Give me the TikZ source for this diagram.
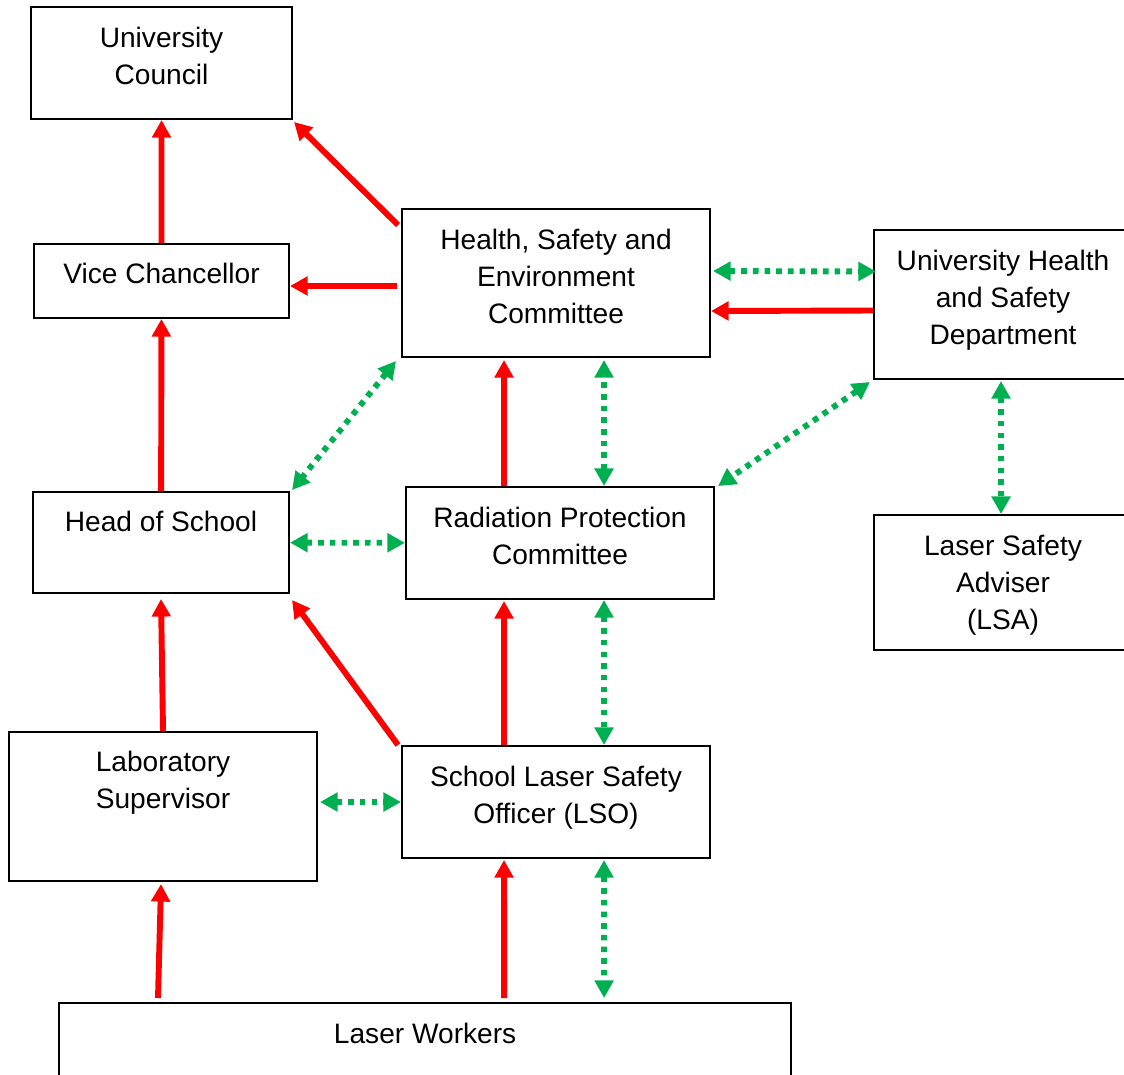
\documentclass[tikz,border=0pt]{standalone}
\usepackage{fontspec}
\setmainfont{Liberation Sans}
\usepackage{xcolor}
\definecolor{g}{RGB}{0,176,80}
\usepackage{tikz}
\usetikzlibrary{arrows.meta, positioning, calc}

\begin{document}
\begin{tikzpicture}[x=0.025cm, y=-0.025cm,
    box/.style={draw, line width=1.4pt, inner sep=0pt, anchor=north west},
    boxtext/.style={align=center, inner sep=0pt, font=\fontsize{20}{26.2}\selectfont},
    redarrow/.style={red, line width=4.2pt, -{Triangle[length=12.5pt, width=13pt]}},
    greenarrow/.style={g, line width=4.2pt, dash pattern=on 4pt off 4.3pt,
        {Triangle[length=12.5pt, width=13pt]}-{Triangle[length=12.5pt, width=13pt]}}]
    % Page and clipping
    \useasboundingbox (0,0) rectangle (1124,1074);
    \clip (0,0) rectangle (1124,1074);

    % Left column
    \node[box, minimum width=6.525cm, minimum height=2.8cm] (uc) at (30,6) {};
    \node[box, minimum width=6.375cm, minimum height=1.85cm] (vc) at (33,243) {};
    \node[box, minimum width=6.4cm, minimum height=2.525cm] (hos) at (32,491) {};
    \node[box, minimum width=7.7cm, minimum height=3.725cm] (ls) at (8,731) {};
    \node[box, minimum width=18.3cm, minimum height=2.5cm] (lw) at (58,1002) {};

    % Middle column
    \node[box, minimum width=7.7cm, minimum height=3.7cm] (hse) at (401,208) {};
    \node[box, minimum width=7.7cm, minimum height=2.8cm] (rpc) at (405,486) {};
    \node[box, minimum width=7.7cm, minimum height=2.8cm] (lso) at (401,745) {};

    % Right column
    \node[box, minimum width=6.45cm, minimum height=3.725cm] (uhsd) at (873,229) {};
    \node[box, minimum width=6.45cm, minimum height=3.375cm] (lsa) at (873,514) {};

    % Texts
    \node[boxtext, below=0.53cm of uc.north] (ucText) {University\\Council};
    \node[boxtext, below=0.5cm of vc.north] (vcText) {Vice Chancellor};
    \node[boxtext, below=0.5cm of hos.north] (hosText) {Head of School};
    \node[boxtext, below=0.5cm of ls.north] (lsText) {Laboratory\\Supervisor};
    \node[boxtext, below=0.53cm of lw.north] (lwText) {Laser Workers};
    \node[boxtext, below=0.53cm of hse.north] (hseText) {Health, Safety and\\Environment\\Committee};
    \node[boxtext, below=0.53cm of rpc.north] (rpcText) {Radiation Protection\\Committee};
    \node[boxtext, below=0.53cm of lso.north] (lsoText) {School Laser Safety\\Officer (LSO)};
    \node[boxtext, below=0.53cm of uhsd.north] (uhsdText) {University Health\\and Safety\\Department};
    \node[boxtext, below=0.53cm of lsa.north] (lsaText) {Laser Safety\\Adviser\\(LSA)};

    % Reporting lines
    \draw[redarrow] (vc) -- (uc);
    \draw[redarrow] ($(hse.north west)+(-3,17)$) -- ($(uc.south east)+(1,2)$);
    \draw[redarrow] ($(hse.west |- vc.east)+(-4,5)$) -- ($(vc.east)+(0,5)$);
    \draw[redarrow] ($(uhsd.west)+(0,6)$) -- ($(hse.east)+(0,28)$);
    \draw[redarrow] (hos) -- (vc);
    \draw[redarrow] ($(rpc.north)+(-56,0)$) -- ($(hse.south)+(-52,2)$);
    \draw[redarrow] (ls.north) -- ($(hos.south)+(0,5)$);
    \draw[redarrow] ($(lso.north west)+(-3,0)$) -- ($(hos.south east)+(2,6)$);
    \draw[redarrow] ($(lso.north)+(-52,0)$) -- ($(rpc.south)+(-56,1)$);
    \draw[redarrow] ($(lw.north west)+(100,-4)$) -- ($(ls.south)+(-2,2)$);
    \draw[redarrow] ($(lw.north)+(79,-4)$) -- ($(lso.south)+(-52,1)$);

    % Communication lines
    \draw[greenarrow] ($(hse.east)+(2,-12)$) -- ($(uhsd.west)+(3,-33)$);
    \draw[greenarrow] ($(hse.south west)+(-5,3)$) -- ($(hos.north east)+(2,-1)$);
    \draw[greenarrow] ($(rpc.north)+(44,0)$) -- ($(hse.south)+(48,2)$);
    \draw[greenarrow] ($(uhsd.south west)+(-3,2)$) -- ($(rpc.north east)+(3,0)$);
    \draw[greenarrow] ($(uhsd.south)+(-2,1)$) -- ($(lsa.north)+(-2,0)$);
    \draw[greenarrow] (hos) -- (rpc);
    \draw[greenarrow] ($(rpc.south)+(44,0)$) -- ($(lso.north)+(48,0)$);
    \draw[greenarrow] ($(ls.east |- lso.west)+(2,0)$) -- (lso.west);
    \draw[greenarrow] ($(lso.south)+(48,1)$) -- ($(lw.north)+(179,-4)$);
\end{tikzpicture}
\end{document}
